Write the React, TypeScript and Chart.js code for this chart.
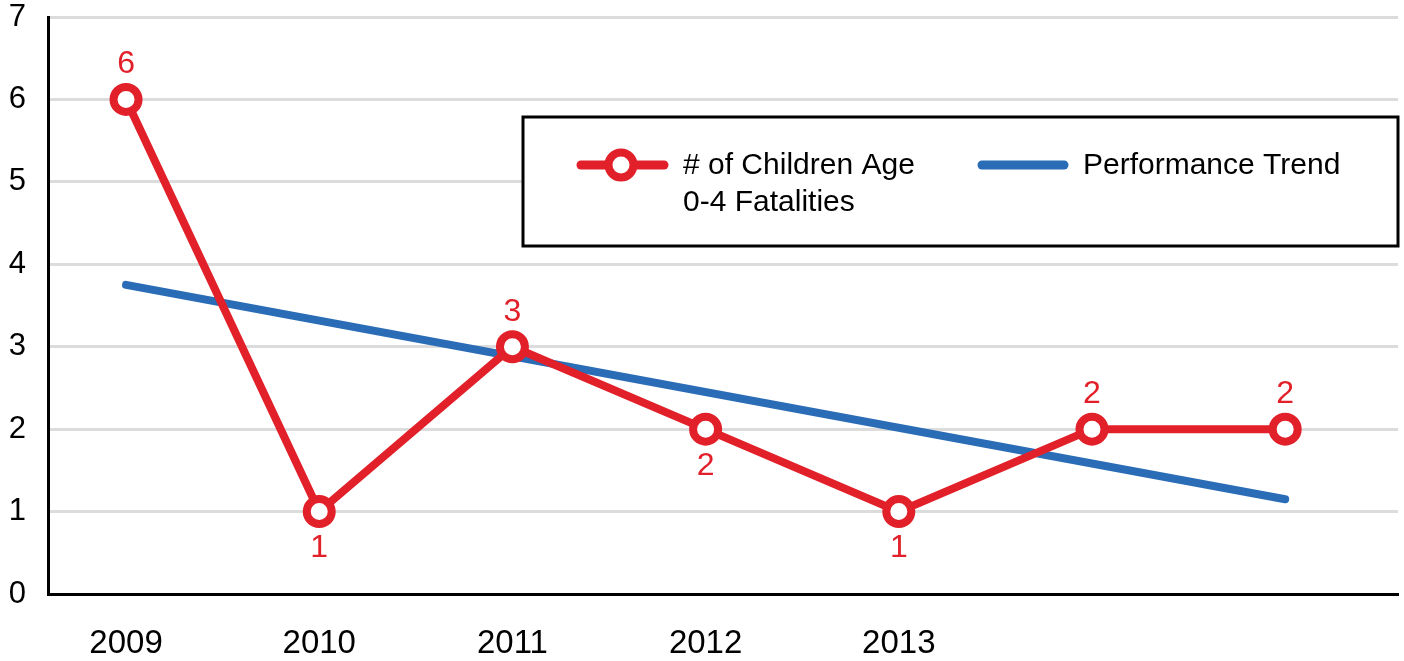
import React, { useEffect, useRef } from 'react';
import { Chart, registerables } from 'chart.js';

Chart.register(...registerables);

const years = ['2009', '2010', '2011', '2012', '2013', '', ''];
const fatalities = [6, 1, 3, 2, 1, 2, 2];
const trendValues: (number | null)[] = [3.75, null, null, null, null, null, 1.15];
const labelSide = ['top', 'bottom', 'top', 'bottom', 'bottom', 'top', 'top'];
const yTicks = [0, 1, 2, 3, 4, 5, 6, 7];
const seriesNames = [['# of Children Age', '0-4 Fatalities'], ['Performance Trend']];

const RED = '#e2202a';
const BLUE = '#2a6cb6';
const FONT = "'Liberation Sans', Arial, Helvetica, sans-serif";

const overlayPlugin = {
  id: 'overlay',
  afterDraw(chart: any) {
    const ctx = chart.ctx;
    const ca = chart.chartArea;
    // data labels
    const meta = chart.getDatasetMeta(0);
    ctx.save();
    ctx.font = `32px ${FONT}`;
    ctx.fillStyle = RED;
    ctx.textAlign = 'center';
    ctx.textBaseline = 'middle';
    meta.data.forEach((pt: any, i: number) => {
      const dy = labelSide[i] === 'top' ? -35 : 37;
      ctx.fillText(String(fatalities[i]), pt.x, pt.y + dy);
    });
    ctx.restore();

    // legend box
    const left = ca.left + 475;
    const top = ca.top + 100;
    const right = ca.right;
    const bottom = ca.top + 229;
    ctx.save();
    ctx.fillStyle = '#fff';
    ctx.fillRect(left, top, right - left, bottom - top);
    ctx.strokeStyle = '#000';
    ctx.lineWidth = 3;
    ctx.strokeRect(left, top, right - left, bottom - top);

    const rowY = top + 48;
    // red marker
    ctx.lineCap = 'round';
    ctx.strokeStyle = RED;
    ctx.lineWidth = 9;
    ctx.beginPath();
    ctx.moveTo(left + 58, rowY);
    ctx.lineTo(left + 141, rowY);
    ctx.stroke();
    ctx.beginPath();
    ctx.arc(left + 98, rowY, 12.5, 0, Math.PI * 2);
    ctx.fillStyle = '#fff';
    ctx.fill();
    ctx.lineWidth = 8;
    ctx.stroke();
    // blue marker
    ctx.strokeStyle = BLUE;
    ctx.lineWidth = 9;
    ctx.beginPath();
    ctx.moveTo(left + 459, rowY);
    ctx.lineTo(left + 541, rowY);
    ctx.stroke();

    ctx.fillStyle = '#000';
    ctx.font = `30px ${FONT}`;
    ctx.textAlign = 'left';
    ctx.textBaseline = 'middle';
    seriesNames[0].forEach((t, k) => ctx.fillText(t, left + 160, rowY + 1 + k * 37));
    seriesNames[1].forEach((t, k) => ctx.fillText(t, left + 560, rowY + 1 + k * 37));
    ctx.restore();
  },
};

export default function App() {
  const ref = useRef<HTMLCanvasElement | null>(null);
  useEffect(() => {
    if (!ref.current) return;
    const chart = new Chart(ref.current, {
      type: 'line',
      data: {
        datasets: [
          {
            label: '# of Children Age 0-4 Fatalities',
            data: fatalities.map((y, i) => ({ x: i, y })),
            borderColor: RED,
            borderWidth: 8,
            pointRadius: 12.5,
            pointBorderWidth: 8,
            pointBackgroundColor: '#fff',
            pointBorderColor: RED,
            tension: 0,
            order: 0,
          },
          {
            label: 'Performance Trend',
            data: trendValues.map((y, i) => ({ x: i, y })),
            borderColor: BLUE,
            borderWidth: 8,
            borderCapStyle: 'round',
            pointRadius: 0,
            spanGaps: true,
            order: 1,
          },
        ],
      },
      options: {
        animation: false,
        responsive: true,
        maintainAspectRatio: false,
        layout: { autoPadding: false, padding: { left: 0, right: 6, top: 17, bottom: 0 } },
        plugins: { legend: { display: false }, tooltip: { enabled: false } },
        scales: {
          x: {
            type: 'linear',
            min: -0.404,
            max: 6.584,
            afterBuildTicks: (s: any) => {
              s.ticks = years.map((_, i) => ({ value: i }));
            },
            afterFit: (s: any) => {
              s.height = 67;
              s.paddingLeft = 0;
              s.paddingRight = 0;
            },
            grid: { display: false, drawTicks: false },
            border: { display: true, color: '#000', width: 3 },
            ticks: {
              autoSkip: false,
              maxRotation: 0,
              padding: 30,
              color: '#000',
              font: { family: FONT, size: 33 },
              callback: (v: any) => years[v] ?? '',
            },
          },
          y: {
            min: 0,
            max: 7,
            afterBuildTicks: (s: any) => {
              s.ticks = yTicks.map((v) => ({ value: v }));
            },
            afterFit: (s: any) => {
              s.width = 48;
              s.paddingTop = 0;
              s.paddingBottom = 0;
            },
            grid: { color: '#dcdcdc', lineWidth: 3, drawTicks: false },
            border: { display: true, color: '#000', width: 3 },
            ticks: {
              padding: 22,
              color: '#000',
              font: { family: FONT, size: 31 },
            },
          },
        },
      },
      plugins: [overlayPlugin],
    } as any);
    return () => chart.destroy();
  }, []);
  return (
    <div style={{ position: 'fixed', left: 0, top: 0, width: 1404, height: 661, background: '#fff' }}>
      <canvas ref={ref} />
    </div>
  );
}
